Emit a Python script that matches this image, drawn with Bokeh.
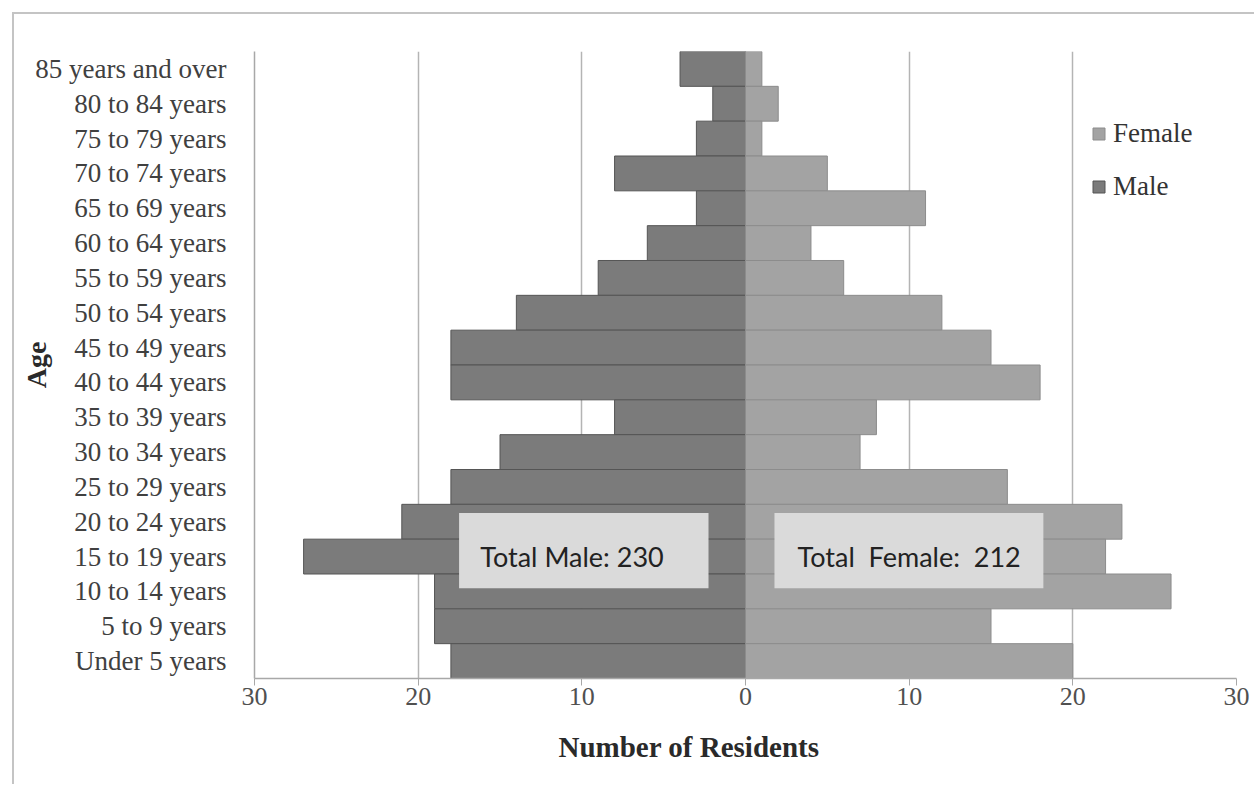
from bokeh.plotting import figure
from bokeh.models import (FactorRange, Range1d, FixedTicker, BoxAnnotation,
                          Label, Legend, LegendItem, ColumnDataSource, Title)
from bokeh.embed import file_html
from bokeh.resources import INLINE

# Age groups, listed from oldest (top) to youngest (bottom)
age_groups = [
    "85 years and over", "80 to 84 years", "75 to 79 years", "70 to 74 years",
    "65 to 69 years", "60 to 64 years", "55 to 59 years", "50 to 54 years",
    "45 to 49 years", "40 to 44 years", "35 to 39 years", "30 to 34 years",
    "25 to 29 years", "20 to 24 years", "15 to 19 years", "10 to 14 years",
    "5 to 9 years", "Under 5 years",
]
male = [4, 2, 3, 8, 3, 6, 9, 14, 18, 18, 8, 15, 18, 21, 27, 19, 19, 18]
female = [1, 2, 1, 5, 11, 4, 6, 12, 15, 18, 8, 7, 16, 23, 22, 26, 15, 20]
x_ticks = [-30, -20, -10, 0, 10, 20, 30]

total_male = sum(male)
total_female = sum(female)

SERIF = "Liberation Serif"
SANS = "Lato"
NBSP = "\u00a0"

source = ColumnDataSource(dict(
    age=age_groups,
    male_left=[-m for m in male],
    zero=[0] * len(age_groups),
    female=female,
))

p = figure(
    width=1242, height=772,
    y_range=FactorRange(factors=list(reversed(age_groups))),
    x_range=Range1d(-30, 30),
    output_backend="svg", toolbar_location=None,
    min_border_left=240, min_border_right=20,
    min_border_top=37, min_border_bottom=108,
)
p.margin = (12, 0, 0, 12)
p.styles = {"border-top": "2px solid #c4c4c4", "border-left": "2px solid #c4c4c4"}
p.outline_line_color = None
p.background_fill_color = "white"

male_r = p.hbar(y="age", left="male_left", right="zero", height=1.0, source=source,
                fill_color="#7b7b7b", line_color="#555555", line_width=1)
female_r = p.hbar(y="age", left="zero", right="female", height=1.0, source=source,
                  fill_color="#a3a3a3", line_color="#8c8c8c", line_width=1)

# vertical grid only
p.ygrid.grid_line_color = None
p.xgrid.ticker = FixedTicker(ticks=x_ticks)
p.xgrid.grid_line_color = "#b4b4b4"
p.xgrid.grid_line_width = 1.5
p.xgrid.level = "underlay"

# x axis: residents on both sides shown as positive counts
p.xaxis.ticker = FixedTicker(ticks=x_ticks)
p.xaxis.major_label_overrides = {t: str(abs(t)) for t in x_ticks}
p.xaxis.axis_line_color = "#a8a8a8"
p.xaxis.axis_line_width = 1.5
p.xaxis.major_tick_line_color = "#a8a8a8"
p.xaxis.major_tick_out = 7
p.xaxis.major_tick_in = 0
p.xaxis.minor_tick_line_color = None
p.xaxis.major_label_text_font = SERIF
p.xaxis.major_label_text_font_size = "26px"
p.xaxis.major_label_text_color = "#505050"
p.xaxis.major_label_standoff = 2

# x axis title, set slightly left of the frame centre
p.add_layout(Title(text="Number of Residents", align="left", offset=304,
                   text_font=SERIF, text_font_size="29px", text_font_style="bold",
                   text_color="#2a2a2a", standoff=43), "below")

# y axis: age group names
p.yaxis.axis_line_color = "#a8a8a8"
p.yaxis.axis_line_width = 1.5
p.yaxis.major_tick_line_color = None
p.yaxis.minor_tick_line_color = None
p.yaxis.major_label_text_font = SERIF
p.yaxis.major_label_text_font_size = "27px"
p.yaxis.major_label_text_color = "#404040"
p.yaxis.major_label_standoff = 22
p.yaxis.axis_label = "Age"
p.yaxis.axis_label_text_font = SERIF
p.yaxis.axis_label_text_font_size = "28px"
p.yaxis.axis_label_text_font_style = "bold"
p.yaxis.axis_label_text_color = "#2a2a2a"
p.yaxis.axis_label_standoff = -20

# total boxes over the 15-19 row
box_style = dict(fill_color="#dadada", fill_alpha=1.0, line_color=None, level="overlay")
p.add_layout(BoxAnnotation(left=-17.5, right=-2.26, bottom=2.59, top=4.75, **box_style))
p.add_layout(BoxAnnotation(left=1.77, right=18.2, bottom=2.59, top=4.75, **box_style))

label_style = dict(y=3.5, text_align="center", text_baseline="middle",
                   text_font=SANS, text_font_size="27px", text_color="#222222",
                   level="overlay")
p.add_layout(Label(x=-10.6, text=f"Total Male: {total_male}", **label_style))
p.add_layout(Label(x=10.0, text=f"Total{NBSP} Female:{NBSP} {total_female}", **label_style))

legend = Legend(
    items=[LegendItem(label="Female", renderers=[female_r]),
           LegendItem(label="Male", renderers=[male_r])],
    location=(837, 476),
    label_text_font=SERIF, label_text_font_size="27px", label_text_color="#333333",
    glyph_width=15, glyph_height=15, label_standoff=7, spacing=22,
    padding=0, margin=0, border_line_color=None, background_fill_alpha=0,
)
p.add_layout(legend)

open("out.html", "w").write(file_html(p, INLINE))
